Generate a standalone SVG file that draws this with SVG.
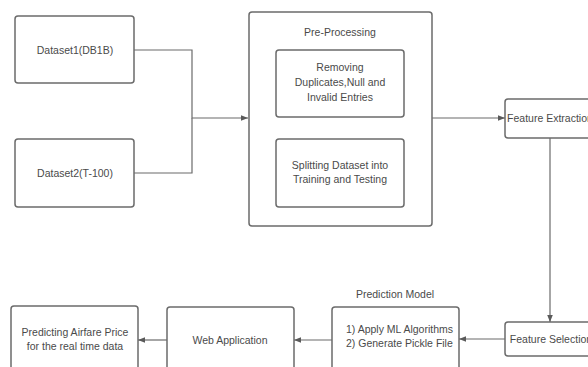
<svg xmlns="http://www.w3.org/2000/svg" width="588" height="367" viewBox="0 0 588 367">
<defs>
<style>
.box{fill:#fff;stroke:#6b6b6b;stroke-width:1.5}
.t{font-family:"Liberation Sans",Arial,sans-serif;font-size:10.5px;fill:#4a4a4a;text-anchor:middle}
.tl{font-family:"Liberation Sans",Arial,sans-serif;font-size:10.5px;fill:#4a4a4a}
.c{fill:none;stroke:#6b6b6b;stroke-width:1.2}
</style>
<marker id="ah" viewBox="0 0 10 10" refX="10" refY="5" markerWidth="7" markerHeight="7" markerUnits="userSpaceOnUse" orient="auto">
<path d="M0,1 L10,5 L0,9 Z" fill="#5a5a5a"/>
</marker>
</defs>
<rect width="588" height="367" fill="#fff"/>
<g id="connectors">
<path class="c" d="M134,50 H192 V118 H248" marker-end="url(#ah)"/>
<path class="c" d="M134,173 H192 V118"/>
<path class="c" d="M432,118 H505" marker-end="url(#ah)"/>
<path class="c" d="M550,138 V322" marker-end="url(#ah)"/>
<path class="c" d="M505,339 H459" marker-end="url(#ah)"/>
<path class="c" d="M332,340 H294" marker-end="url(#ah)"/>
<path class="c" d="M167,340 H138" marker-end="url(#ah)"/>
</g>
<g id="dataset1">
<rect class="box" x="15" y="16" width="119" height="67" rx="3"/>
<text class="t" x="75" y="53.5">Dataset1(DB1B)</text>
</g>
<g id="dataset2">
<rect class="box" x="15" y="139" width="119" height="68" rx="3"/>
<text class="t" x="75" y="176.5">Dataset2(T-100)</text>
</g>
<g id="preprocessing">
<rect class="box" x="249" y="12" width="183" height="214" rx="3"/>
<text class="t" x="340" y="36">Pre-Processing</text>
</g>
<g id="removing">
<rect class="box" x="276" y="50" width="128" height="67" rx="3"/>
<text class="t" x="340" y="70.5">Removing</text>
<text class="t" x="340" y="85.5">Duplicates,Null and</text>
<text class="t" x="340" y="100.5">Invalid Entries</text>
</g>
<g id="splitting">
<rect class="box" x="276" y="139" width="128" height="68" rx="3"/>
<text class="t" x="340" y="168.5">Splitting Dataset into</text>
<text class="t" x="340" y="182.5">Training and Testing</text>
</g>
<g id="feature-extraction">
<rect class="box" x="505" y="99" width="90" height="39" rx="3"/>
<text class="t" x="550" y="122">Feature Extraction</text>
</g>
<g id="feature-selection">
<rect class="box" x="505" y="322" width="90" height="34" rx="3"/>
<text class="t" x="551" y="342.5">Feature Selection</text>
</g>
<g id="prediction-model">
<text class="t" x="395" y="297.5">Prediction Model</text>
<rect class="box" x="332" y="307" width="127" height="68" rx="3"/>
<text class="tl" x="346" y="332.5">1) Apply ML Algorithms</text>
<text class="tl" x="346" y="346.5">2) Generate Pickle File</text>
</g>
<g id="web-application">
<rect class="box" x="167" y="307" width="127" height="68" rx="3"/>
<text class="t" x="230" y="343.5">Web Application</text>
</g>
<g id="predicting">
<rect class="box" x="11" y="306" width="127" height="69" rx="3"/>
<text class="t" x="75" y="335.5">Predicting Airfare Price</text>
<text class="t" x="75" y="349.5">for the real time data</text>
</g>
</svg>
